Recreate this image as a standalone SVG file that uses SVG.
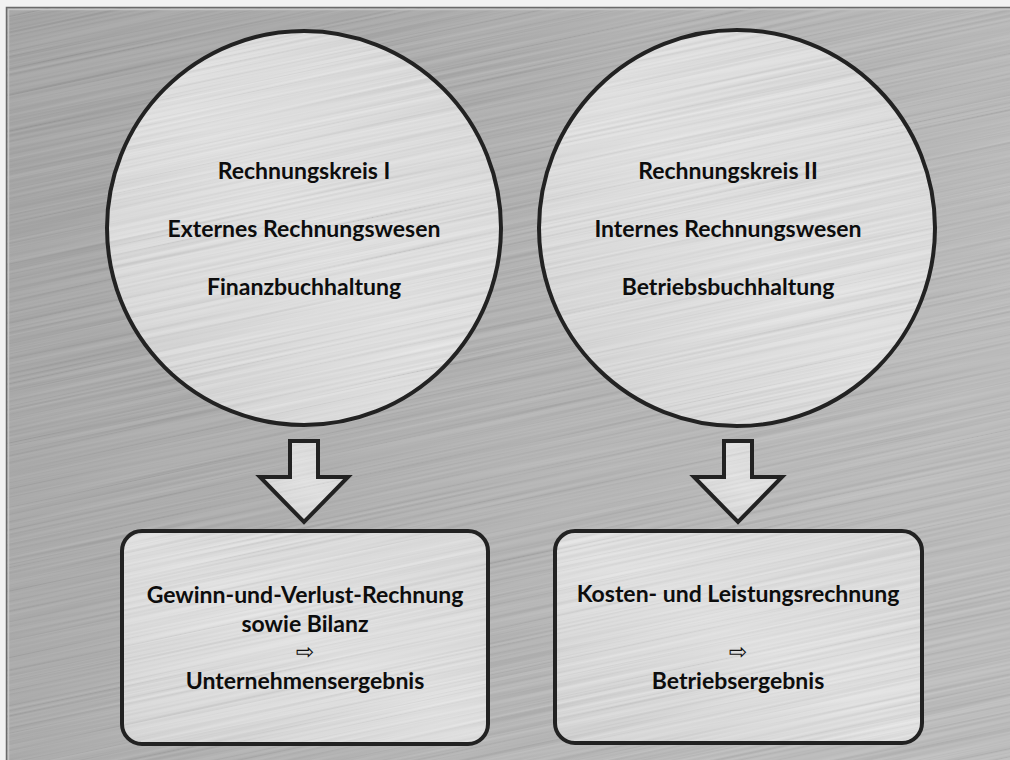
<svg xmlns="http://www.w3.org/2000/svg" xmlns:xlink="http://www.w3.org/1999/xlink" width="1010" height="760" viewBox="0 0 1010 760">
  <style>
    .t { font-family: Lato, "Open Sans", "Liberation Sans", sans-serif; font-weight: bold; font-size: 23px; fill: #0d0d0d; text-anchor: middle; }
    .sym { font-family: "DejaVu Sans", sans-serif; font-size: 22px; fill: #111; text-anchor: middle; }
    .shape { fill: url(#light); }
    .edge { fill: none; stroke: #222; stroke-width: 4; }
  </style>
  <defs>
    <linearGradient id="bg" x1="0" y1="0" x2="1" y2="0.4">
      <stop offset="0" stop-color="#9c9c9c"/>
      <stop offset="0.55" stop-color="#acacac"/>
      <stop offset="1" stop-color="#b8b8b8"/>
    </linearGradient>
    <linearGradient id="light" x1="0" y1="1" x2="1" y2="0">
      <stop offset="0" stop-color="#d4d4d4"/>
      <stop offset="0.5" stop-color="#e2e2e2"/>
      <stop offset="1" stop-color="#dadada"/>
    </linearGradient>
    <filter id="brush" x="0" y="0" width="100%" height="100%">
      <feTurbulence type="fractalNoise" baseFrequency="0.003 0.4" numOctaves="3" seed="7"/>
      <feColorMatrix type="matrix" values="1.4 0 0 0 -0.1  1.4 0 0 0 -0.1  1.4 0 0 0 -0.1  0 0 0 0 0.16"/>
    </filter>
    <g id="tex">
      <rect x="-300" y="-300" width="1610" height="1360" fill="#fff" transform="rotate(-12 505 380)" filter="url(#brush)"/>
    </g>
    <clipPath id="clipBg"><rect x="7" y="8" width="1003" height="752"/></clipPath>
    <clipPath id="clipC1"><circle cx="304" cy="228" r="197"/></clipPath>
    <clipPath id="clipC2"><circle cx="737" cy="228" r="198"/></clipPath>
    <clipPath id="clipA1"><polygon points="290,441 318,441 318,477 348,477 304,522 260,477 290,477"/></clipPath>
    <clipPath id="clipA2"><polygon points="724,441 752,441 752,477 782,477 738,522 694,477 724,477"/></clipPath>
    <clipPath id="clipB1"><rect x="122" y="531" width="366" height="213" rx="20"/></clipPath>
    <clipPath id="clipB2"><rect x="555" y="531" width="367" height="212" rx="20"/></clipPath>
  </defs>

  <rect x="0" y="0" width="1010" height="760" fill="#f2f2f2"/>
  <g id="background">
    <rect x="7" y="8" width="1003" height="752" fill="url(#bg)"/>
    <use xlink:href="#tex" href="#tex" clip-path="url(#clipBg)"/>
    <rect x="6.5" y="7.5" width="1010" height="760" fill="none" stroke="#6a6a6a" stroke-width="1.5"/>
    <rect x="8.5" y="9.5" width="1010" height="760" fill="none" stroke="#c4c4c4" stroke-width="1.5"/>
  </g>

  <g id="connectors">
    <g id="arrow1">
      <polygon class="shape" points="290,441 318,441 318,477 348,477 304,522 260,477 290,477"/>
      <use xlink:href="#tex" href="#tex" clip-path="url(#clipA1)"/>
      <polygon class="edge" points="290,441 318,441 318,477 348,477 304,522 260,477 290,477"/>
    </g>
    <g id="arrow2">
      <polygon class="shape" points="724,441 752,441 752,477 782,477 738,522 694,477 724,477"/>
      <use xlink:href="#tex" href="#tex" clip-path="url(#clipA2)"/>
      <polygon class="edge" points="724,441 752,441 752,477 782,477 738,522 694,477 724,477"/>
    </g>
  </g>

  <g id="circle1">
    <circle class="shape" cx="304" cy="228" r="197"/>
    <use xlink:href="#tex" href="#tex" clip-path="url(#clipC1)"/>
    <circle class="edge" cx="304" cy="228" r="197"/>
    <text class="t" x="304" y="179">Rechnungskreis I</text>
    <text class="t" x="304" y="237">Externes Rechnungswesen</text>
    <text class="t" x="304" y="295">Finanzbuchhaltung</text>
  </g>

  <g id="circle2">
    <circle class="shape" cx="737" cy="228" r="198"/>
    <use xlink:href="#tex" href="#tex" clip-path="url(#clipC2)"/>
    <circle class="edge" cx="737" cy="228" r="198"/>
    <text class="t" x="728" y="179">Rechnungskreis II</text>
    <text class="t" x="728" y="237">Internes Rechnungswesen</text>
    <text class="t" x="728" y="295">Betriebsbuchhaltung</text>
  </g>

  <g id="box1">
    <rect class="shape" x="122" y="531" width="366" height="213" rx="20"/>
    <use xlink:href="#tex" href="#tex" clip-path="url(#clipB1)"/>
    <rect class="edge" x="122" y="531" width="366" height="213" rx="20"/>
    <text class="t" x="305" y="603">Gewinn-und-Verlust-Rechnung</text>
    <text class="t" x="305" y="632">sowie Bilanz</text>
    <text class="sym" x="305" y="659">⇨</text>
    <text class="t" x="305" y="689">Unternehmensergebnis</text>
  </g>

  <g id="box2">
    <rect class="shape" x="555" y="531" width="367" height="212" rx="20"/>
    <use xlink:href="#tex" href="#tex" clip-path="url(#clipB2)"/>
    <rect class="edge" x="555" y="531" width="367" height="212" rx="20"/>
    <text class="t" x="738" y="602">Kosten- und Leistungsrechnung</text>
    <text class="sym" x="738" y="659">⇨</text>
    <text class="t" x="738" y="689">Betriebsergebnis</text>
  </g>
</svg>
